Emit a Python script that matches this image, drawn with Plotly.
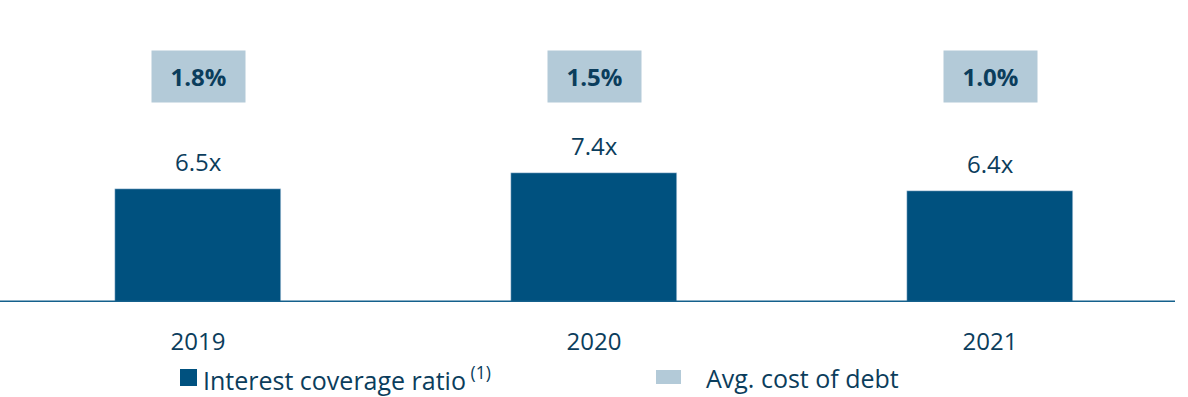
import plotly.graph_objects as go

years = ["2019", "2020", "2021"]
coverage_ratio = [6.5, 7.4, 6.4]
avg_cost_of_debt = [1.8, 1.5, 1.0]

DARK = "#00517f"
LIGHT = "#b3cad8"
TEXT = "#0b3d5c"
FONT = "Open Sans"

PLOT_H = 302  # plot area height in px (baseline sits here)

fig = go.Figure()
fig.add_trace(go.Bar(
    x=years, y=coverage_ratio, marker_color=DARK, width=0.417,
    hoverinfo="skip", showlegend=False,
))

annotations = []
for i, (v, c) in enumerate(zip(coverage_ratio, avg_cost_of_debt)):
    annotations.append(dict(
        x=i, y=v, xref="x", yref="y", text=f"{v:.1f}x", showarrow=False,
        yanchor="bottom", yshift=9, font=dict(size=24, color=TEXT, family=FONT),
    ))
    annotations.append(dict(
        x=i, y=1 - 76.5 / PLOT_H, xref="x", yref="paper", text=f"<b>{c:.1f}%</b>",
        showarrow=False, bgcolor=LIGHT, width=93, height=51, borderpad=0,
        xanchor="center", yanchor="middle",
        font=dict(size=24, color=TEXT, family=FONT),
    ))


def px_x(px):
    return px / 1188


def px_y(px):
    return (PLOT_H - px) / PLOT_H


# legend
annotations.append(dict(
    x=px_x(201), y=px_y(378), xref="paper", yref="paper",
    text="Interest coverage ratio<sup> (1)</sup>",
    showarrow=False, xanchor="left", yanchor="middle",
    font=dict(size=25, color=TEXT, family=FONT),
))
annotations.append(dict(
    x=px_x(704), y=px_y(378), xref="paper", yref="paper", text="Avg. cost of debt",
    showarrow=False, xanchor="left", yanchor="middle",
    font=dict(size=25, color=TEXT, family=FONT),
))

shapes = [
    dict(type="line", xref="paper", yref="y", x0=0, x1=px_x(1175), y0=0, y1=0,
         line=dict(color="#14608c", width=3)),
    dict(type="rect", xref="paper", yref="paper", x0=px_x(180), x1=px_x(197),
         y0=px_y(386), y1=px_y(369), fillcolor=DARK, line_width=0),
    dict(type="rect", xref="paper", yref="paper", x0=px_x(656), x1=px_x(681),
         y0=px_y(384), y1=px_y(370), fillcolor=LIGHT, line_width=0),
]

fig.update_layout(
    width=1188, height=397, margin=dict(l=0, r=0, t=0, b=397 - PLOT_H),
    plot_bgcolor="white", paper_bgcolor="white",
    annotations=annotations, shapes=shapes,
    font=dict(family=FONT, color=TEXT),
    xaxis=dict(type="category", range=[-0.5, 2.5], showgrid=False, showline=False,
               ticks="", tickfont=dict(size=24, color=TEXT, family=FONT),
               ticklabelstandoff=23),
    yaxis=dict(range=[0, PLOT_H / 17.4], visible=False, showgrid=False, zeroline=False),
    bargap=0,
)

fig.write_html("out.html")
